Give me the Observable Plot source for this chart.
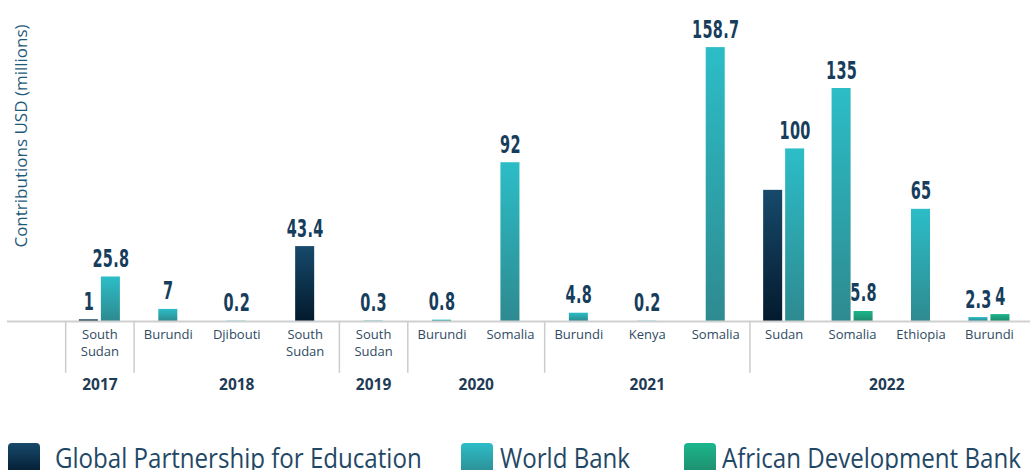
<!DOCTYPE html>
<html>
<head>
<meta charset="utf-8">
<script src="https://cdn.jsdelivr.net/npm/d3@7"></script>
<script src="https://cdn.jsdelivr.net/npm/@observablehq/plot@0.6"></script>
<style>
  body { margin: 0; background: #fff; overflow: hidden; }
  #wrap { position: relative; width: 1030px; height: 470px; overflow: hidden; }
  .sw { position: absolute; top: 443px; width: 32px; height: 32px; border-radius: 4px; }
  .lt { position: absolute; top: 440px; font-family: "Open Sans", sans-serif; font-size: 28px; color: #1f4866; white-space: nowrap; transform: scaleX(0.86); transform-origin: left top; line-height: 34px; }
</style>
</head>
<body>
<div id="wrap"><div id="chart"></div></div>
<script>
// ---- data ----
const categories = ["South\nSudan", "Burundi", "Djibouti", "South\nSudan", "South\nSudan", "Burundi", "Somalia", "Burundi", "Kenya", "Somalia", "Sudan", "Somalia", "Ethiopia", "Burundi"];
const years = ["2017", "2018", "2018", "2018", "2019", "2020", "2020", "2021", "2021", "2021", "2022", "2022", "2022", "2022"];
const gpeValues = [1, null, null, 43.4, null, null, null, null, null, null, 76, null, null, null];
const worldBankValues = [25.8, 7, 0.2, null, 0.3, 0.8, 92, 4.8, 0.2, 158.7, 100, 135, 65, 2.3];
const afdbValues = [null, null, null, null, null, null, null, null, null, null, null, 5.8, null, 4];
const gpeLabels = ["1", null, null, "43.4", null, null, null, null, null, null, null, null, null, null];
const worldBankLabels = ["25.8", "7", "0.2", null, "0.3", "0.8", "92", "4.8", "0.2", "158.7", "100", "135", "65", "2.3"];
const afdbLabels = [null, null, null, null, null, null, null, null, null, null, null, "5.8", null, "4"];
const seriesNames = ["Global Partnership for Education", "World Bank", "African Development Bank"];
const yAxisLabel = "Contributions USD (millions)";

// ---- build table ----
const series = [
  {key: "gpe", values: gpeValues, labels: gpeLabels, top: "#174a6b", bottom: "#031a2d"},
  {key: "wb", values: worldBankValues, labels: worldBankLabels, top: "#2cbdc7", bottom: "#2e8a90"},
  {key: "afdb", values: afdbValues, labels: afdbLabels, top: "#1bb68c", bottom: "#1f8a6c"}
];
const slot = 0.3215, halfBar = 0.139;
const rows = [];
categories.forEach((c, i) => {
  const present = series.filter(s => s.values[i] != null);
  present.forEach((s, k) => {
    rows.push({i, series: s.key, value: s.values[i], label: s.labels[i], pos: i + (k - (present.length - 1) / 2) * slot});
  });
});
const cats = categories.map((name, i) => ({name, i}));
const yearList = [...new Set(years)];
const yearRows = yearList.map(y => ({year: y, pos: d3.mean(years.map((v, i) => v === y ? i : null).filter(v => v != null))}));
const bounds = [-0.5];
years.forEach((y, i) => { if (i > 0 && years[i - 1] !== y) bounds.push(i - 0.5); });

const defs = () => {
  const ns = "http://www.w3.org/2000/svg";
  const d = document.createElementNS(ns, "defs");
  series.forEach(s => {
    const g = document.createElementNS(ns, "linearGradient");
    g.setAttribute("id", "g-" + s.key);
    g.setAttribute("x1", "0"); g.setAttribute("y1", "0"); g.setAttribute("x2", "0"); g.setAttribute("y2", "1");
    [[0, s.top], [1, s.bottom]].forEach(([o, c]) => {
      const st = document.createElementNS(ns, "stop");
      st.setAttribute("offset", o); st.setAttribute("stop-color", c);
      g.appendChild(st);
    });
    d.appendChild(g);
  });
  return d;
};

const chart = Plot.plot({
  width: 1030,
  height: 410,
  marginLeft: 7,
  marginRight: 0,
  marginTop: 0,
  marginBottom: 89,
  x: {type: "linear", domain: [-1.35, 13.6], axis: null},
  y: {domain: [0, 186], axis: null},
  style: {fontFamily: "'Open Sans', sans-serif", background: "#fff"},
  marks: [
    defs,
    ...series.map(s => Plot.rectY(rows.filter(r => r.series === s.key), {
      x1: d => d.pos - halfBar, x2: d => d.pos + halfBar, y1: 0, y2: "value", fill: `url(#g-${s.key})`
    })),
    Plot.ruleY([0], {stroke: "#d0d0d0", strokeWidth: 2}),
    Plot.ruleX(bounds, {y1: 0, y2: -30, stroke: "#cccccc", strokeWidth: 1.5}),
    Plot.text(rows.filter(r => r.label != null), {
      x: "pos", y: "value", text: "label", lineAnchor: "bottom", dy: -10,
      fontFamily: "'DejaVu Sans', sans-serif", fontWeight: "bold", fontSize: 25, fill: "#173d5c",
      className: "vals"
    }),
    Plot.text(cats, {x: "i", y: 0, text: "name", lineAnchor: "top", dy: 5, fontSize: 13, lineHeight: 1.31, fill: "#2f4b63"}),
    Plot.text(yearRows, {x: "pos", y: 0, text: "year", dy: 64, fontSize: 15.5, fontWeight: "bold", fill: "#1f3c56"}),
    Plot.text([yAxisLabel], {frameAnchor: "left", rotate: -90, textAnchor: "middle", dx: 14, dy: -25, fontSize: 17, fill: "#1f5a7a"})
  ]
});
document.getElementById("chart").appendChild(chart);

// horizontally condense the value labels around their own anchor
chart.querySelectorAll("g.vals text").forEach(t => {
  const x = +(t.getAttribute("x") || 0), y = +(t.getAttribute("y") || 0);
  const tr = t.getAttribute("transform") || "";
  t.removeAttribute("x"); t.removeAttribute("y");
  t.setAttribute("transform", `${tr} translate(${x},${y}) scale(0.58,1)`);
  t.style.letterSpacing = "0.5px";
});

// ---- legend ----
const wrap = document.getElementById("wrap");
const legPos = [[8, 55], [461, 500], [684, 722]];
series.forEach((s, k) => {
  const sw = document.createElement("div");
  sw.className = "sw";
  sw.style.left = legPos[k][0] + "px";
  sw.style.background = `linear-gradient(${s.top}, ${s.bottom})`;
  wrap.appendChild(sw);
  const t = document.createElement("div");
  t.className = "lt";
  t.style.left = legPos[k][1] + "px";
  t.textContent = seriesNames[k];
  wrap.appendChild(t);
});
</script>
</body>
</html>
